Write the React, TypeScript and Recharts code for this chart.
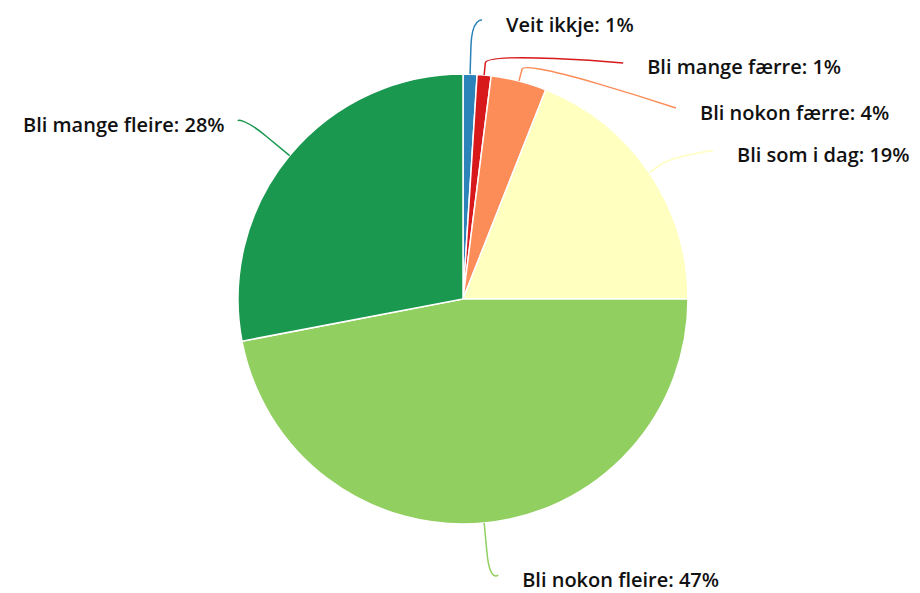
import { PieChart, Pie, Cell } from 'recharts';

const categories = [
  'Veit ikkje',
  'Bli mange færre',
  'Bli nokon færre',
  'Bli som i dag',
  'Bli nokon fleire',
  'Bli mange fleire',
];
const shares = [1, 1, 4, 19, 47, 28];

const sliceColors = [
  '#2b83ba', // blue
  '#d7191c', // red
  '#fc8d59', // orange
  '#ffffbf', // pale yellow
  '#91cf60', // light green
  '#1a9850', // dark green
];

// where each connector ends, relative to the slice edge, and how far it runs out radially first
const labelNudge = [
  { dx: 12, dy: -54, brk: 28 },
  { dx: 139, dy: -12, brk: 12 },
  { dx: 157, dy: 27, brk: 12 },
  { dx: 64, dy: -22, brk: 15 },
  { dx: 14, dy: 52, brk: 30 },
  { dx: -52, dy: -35, brk: 30 },
];

const chartData = categories.map((name, i) => ({ name, value: shares[i] }));

const RADIAN = Math.PI / 180;

// eslint-disable-next-line @typescript-eslint/no-explicit-any
function SliceLabel(props: any) {
  const { cx, cy, midAngle, outerRadius, index, name, value } = props;
  const ux = Math.cos(midAngle * RADIAN);
  const uy = -Math.sin(midAngle * RADIAN);
  const ax = cx + outerRadius * ux;
  const ay = cy + outerRadius * uy;
  const nudge = labelNudge[index];
  const ex = ax + nudge.dx;
  const ey = ay + nudge.dy;
  const bx = ax + ux * nudge.brk;
  const by = ay + uy * nudge.brk;
  const side = nudge.dx >= 0 ? 1 : -1;
  const path = `M ${ex} ${ey} C ${ex} ${ey} ${2 * bx - ax} ${2 * by - ay} ${bx} ${by} L ${ax} ${ay}`;
  return (
    <g>
      <path d={path} stroke={sliceColors[index]} strokeWidth={1.5} fill="none" />
      <text
        x={side > 0 ? ex + 24 : ex - 13}
        y={ey + 4}
        textAnchor={side > 0 ? 'start' : 'end'}
        dominantBaseline="central"
        fontFamily="'Open Sans', sans-serif"
        fontWeight={600}
        fontSize={20}
        fill="#111"
      >
        {`${name}: ${value}%`}
      </text>
    </g>
  );
}

export default function App() {
  return (
    <div style={{ position: 'fixed', left: 0, top: 0, background: '#fff' }}>
      <PieChart width={920} height={593} margin={{ top: 0, right: 0, bottom: 0, left: 0 }}>
        <Pie
          data={chartData}
          dataKey="value"
          nameKey="name"
          cx={463}
          cy={299}
          outerRadius={225}
          startAngle={90}
          endAngle={-270}
          stroke="#fff"
          strokeWidth={1.5}
          label={SliceLabel}
          labelLine={false}
          isAnimationActive={false}
        >
          {chartData.map((entry, i) => (
            <Cell key={entry.name} fill={sliceColors[i]} />
          ))}
        </Pie>
      </PieChart>
    </div>
  );
}
